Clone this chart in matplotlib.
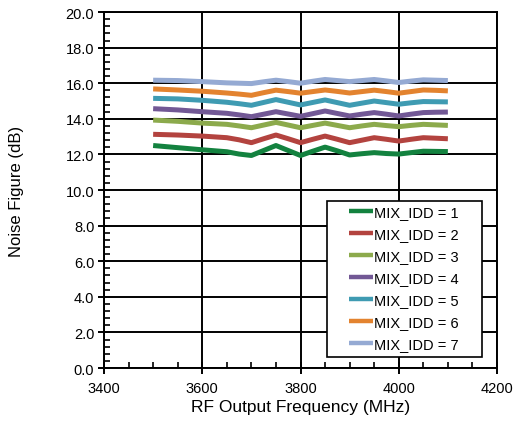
import matplotlib
matplotlib.use("Agg")
import matplotlib.pyplot as plt
from matplotlib.patches import Rectangle
from matplotlib.ticker import MultipleLocator, FormatStrFormatter

# RF output frequency (MHz)
freq = [3500, 3550, 3600, 3650, 3675, 3700, 3725, 3750, 3775, 3800, 3825,
        3850, 3875, 3900, 3925, 3950, 3975, 4000, 4025, 4050, 4075, 4100]

# noise figure (dB) for each MIX_IDD setting
nf_idd1 = [12.50, 12.38, 12.26, 12.15, 12.02, 11.94, 12.22, 12.50, 12.22, 11.94, 12.18,
           12.41, 12.20, 11.97, 12.04, 12.10, 12.05, 12.02, 12.10, 12.18, 12.17, 12.16]
nf_idd2 = [13.13, 13.09, 13.03, 12.94, 12.82, 12.66, 12.88, 13.09, 12.88, 12.66, 12.85,
           13.03, 12.85, 12.66, 12.80, 12.94, 12.85, 12.75, 12.85, 12.94, 12.91, 12.88]
nf_idd3 = [13.93, 13.86, 13.76, 13.69, 13.60, 13.50, 13.65, 13.80, 13.65, 13.50, 13.63,
           13.76, 13.63, 13.50, 13.60, 13.69, 13.62, 13.56, 13.63, 13.69, 13.66, 13.63]
nf_idd4 = [14.57, 14.50, 14.40, 14.31, 14.22, 14.12, 14.26, 14.40, 14.27, 14.14, 14.29,
           14.44, 14.30, 14.16, 14.26, 14.35, 14.26, 14.16, 14.26, 14.35, 14.37, 14.38]
nf_idd5 = [15.15, 15.12, 15.04, 14.93, 14.85, 14.76, 14.92, 15.08, 14.93, 14.78, 14.92,
           15.06, 14.91, 14.76, 14.88, 15.00, 14.91, 14.82, 14.90, 14.97, 14.96, 14.95]
nf_idd6 = [15.68, 15.62, 15.55, 15.45, 15.39, 15.32, 15.47, 15.61, 15.53, 15.44, 15.53,
           15.62, 15.54, 15.45, 15.53, 15.61, 15.53, 15.44, 15.53, 15.62, 15.60, 15.57]
nf_idd7 = [16.17, 16.15, 16.09, 16.02, 16.00, 15.98, 16.08, 16.17, 16.09, 16.00, 16.11,
           16.21, 16.15, 16.09, 16.15, 16.21, 16.13, 16.04, 16.12, 16.19, 16.17, 16.15]

labels = ['MIX_IDD = 1', 'MIX_IDD = 2', 'MIX_IDD = 3', 'MIX_IDD = 4',
          'MIX_IDD = 5', 'MIX_IDD = 6', 'MIX_IDD = 7']
colors = ['#13823f', '#b3433f', '#8caa4c', '#725895', '#3f9bb2', '#e3832f', '#95aad3']

plt.rcParams['font.family'] = ['Liberation Sans', 'DejaVu Sans']

fig = plt.figure(figsize=(5.17, 4.27), dpi=100)
ax = fig.add_axes([0.2012, 0.1358, 0.7601, 0.8337])

series = [nf_idd1, nf_idd2, nf_idd3, nf_idd4, nf_idd5, nf_idd6, nf_idd7]
for vals, lab, col in zip(series, labels, colors):
    ax.plot(freq, vals, color=col, lw=3.6, label=lab,
            solid_joinstyle='round', solid_capstyle='butt')

ax.set_xlim(3400, 4200)
ax.set_ylim(0, 20)
ax.xaxis.set_major_locator(MultipleLocator(200))
ax.xaxis.set_minor_locator(MultipleLocator(50))
ax.yaxis.set_major_locator(MultipleLocator(2))
ax.yaxis.set_minor_locator(MultipleLocator(0.4))
ax.yaxis.set_major_formatter(FormatStrFormatter('%.1f'))

ax.grid(True, which='major', color='black', lw=1.4)
for s in ax.spines.values():
    s.set_linewidth(1.4)
ax.tick_params(which='major', direction='inout', length=8, width=1.4,
               labelsize=10.5, pad=3)
ax.tick_params(which='minor', direction='in', length=4, width=1.2)
ax.tick_params(axis='x', pad=5)

ax.set_xlabel('RF Output Frequency (MHz)', fontsize=12.5, labelpad=3)
ax.set_ylabel('Noise Figure (dB)', fontsize=12, labelpad=30)

# legend box drawn separately so it can be wider than its contents
box = Rectangle((0.567, 0.031), 0.394, 0.438, transform=ax.transAxes,
                facecolor='white', edgecolor='black', lw=1.2, zorder=4)
ax.add_patch(box)
leg = ax.legend(loc='upper left', bbox_to_anchor=(0.623, 0.457), fontsize=10.5,
                frameon=False, handlelength=1.65, handletextpad=0.1,
                labelspacing=0.55, borderpad=0, borderaxespad=0)
leg.set_zorder(5)
for h in leg.get_lines():
    h.set_linewidth(3.2)

fig.savefig('out.png', dpi=100)
